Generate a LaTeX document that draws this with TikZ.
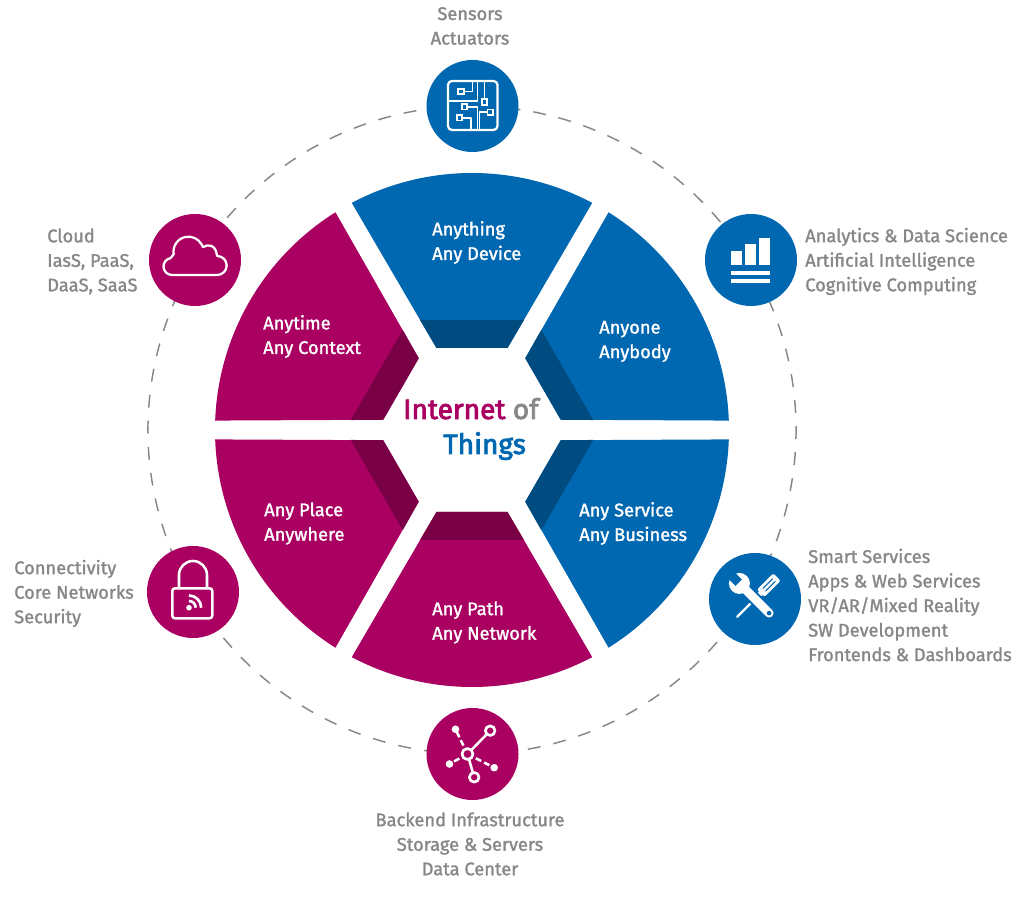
\documentclass[tikz,border=0pt]{standalone}
\usepackage{fontspec}
\setmainfont{Fira Sans}[FakeBold=1.5]
\newfontfamily\hubfont{Fira Sans}[FakeBold=2.8]
\usetikzlibrary{positioning,calc}
\definecolor{iotblue}{RGB}{0,103,177}
\definecolor{iotblued}{RGB}{0,75,127}
\definecolor{iotpink}{RGB}{169,0,97}
\definecolor{iotpinkd}{RGB}{122,0,70}
\definecolor{iotgrey}{RGB}{135,135,135}
\tikzset{
  iconball/.style={circle,minimum size=69pt,inner sep=0pt,fill=#1},
  seglabel/.style={white,align=left,anchor=west,inner sep=0pt,font=\fontsize{13.7}{18.4}\selectfont},
  sidelabel/.style={iotgrey,inner sep=0pt,font=\fontsize{13.7}{18.4}\selectfont},
  hubtext/.style={inner sep=0pt,font=\fontsize{21}{24}\hubfont\selectfont},
  iconline/.style={white,line width=1.7pt,line cap=round,line join=round},
  traceline/.style={white,line width=1.3pt,line join=round}
}
\begin{document}
\begin{tikzpicture}[x=0.75pt,y=0.75pt]
    \useasboundingbox (-472,-493) rectangle (552,430);
    % Dashed ring behind the icons
    \draw[iotgrey,line width=1.1pt,dash pattern=on 9.7pt off 9.88pt,rotate=76.8] (0,0) circle (324);

    % Six segments, all rotated from the top one
    \foreach \angle/\base/\deep in {0/iotblue/iotblued, -60/iotblue/iotblued, -120/iotblue/iotblued, 180/iotpink/iotpinkd, 120/iotpink/iotpinkd, 60/iotpink/iotpinkd}{
        \begin{scope}[rotate=\angle]
            \fill[\base] (-35.5,82) -- (35.5,82) -- (62.1:257) arc[start angle=62.1,end angle=117.9,radius=257] -- cycle;
            \fill[\deep] (-35.5,82) -- (35.5,82) -- (52,110) -- (-52,110) -- cycle;
        \end{scope}
    }

    % Segment texts
    \node[seglabel] (anything) at (-40,187.5) {Anything\\Any Device};
    \node[seglabel] (anyone) at (127,88.5) {Anyone\\Anybody};
    \node[seglabel] (anyservice) at (107,-93.5) {Any Service\\Any Business};
    \node[seglabel] (anypath) at (-40,-192.5) {Any Path\\Any Network};
    \node[seglabel] (anyplace) at (-208,-93.5) {Any Place\\Anywhere};
    \node[seglabel] (anytime) at (-209,93.5) {Anytime\\Any Context};

    % Centre
    \node[hubtext,anchor=base west] (internet) at (-69,11) {\textcolor{iotpink}{Internet} \textcolor{iotgrey}{of}};
    \node[hubtext,anchor=base west,text=iotblue] (things) at (-29,-24) {Things};

    % Icon discs
    \node[iconball=iotblue] (sensors) at (0.5,324) {};
    \node[iconball=iotblue] (analytics) at (279,170) {};
    \node[iconball=iotblue] (services) at (283,-169) {};
    \node[iconball=iotpink] (backend) at (0.5,-324) {};
    \node[iconball=iotpink] (connect) at (-279,-162) {};
    \node[iconball=iotpink] (cloud) at (-277,170) {};

    % Board
    \begin{scope}[shift={(sensors)}]
        \draw[iconline,rounded corners=3pt] (-24.5,-24) rectangle (25,25);
        \draw[traceline] (-24.5,5) -- (5,5) -- (5,25);
        \draw[traceline] (-9,14.5) -- (0,14.5) -- (0,25);
        \draw[traceline] (12,25) -- (12,7);
        \draw[traceline] (-5,-0.7) -- (5,-0.7) -- (5,-24);
        \draw[traceline] (-10,-11.7) -- (-1.5,-11.7) -- (-1.5,-24);
        \draw[traceline] (15,-6.3) -- (7,-6.3) -- (7,-24);
        \foreach \px/\py in {-11.5/14.5, -8/-0.7, -13/-11.7, 12/4, 17.7/-6.3}{
            \draw[white,line width=1.3pt,fill=iotblue] (\px-2.8,\py-2.8) rectangle (\px+2.8,\py+2.8);
        }
    \end{scope}

    % Bars
    \begin{scope}[shift={(analytics)}]
        \foreach \lft/\rgt/\tp in {-20/-9.3/9.3, -5.7/4.7/15.7, 8.3/19/22.3}{
            \fill[white] (\lft,-5) rectangle (\rgt,\tp);
        }
        \fill[white] (-20,-11) rectangle (19,-14.7);
        \fill[white] (-20,-19.3) rectangle (19,-22.7);
    \end{scope}

    % Tools
    \begin{scope}[shift={(services)}]
        \begin{scope}[rotate=45]
            % screwdriver, tip towards lower left
            \draw[white,line width=1.8pt,line cap=round] (-25,0) -- (5,0);
            \fill[white] (4,-2.4) rectangle (9,2.4);
            \fill[white,rounded corners=1.5pt] (8,-5.2) rectangle (31,5.2);
            \draw[iotblue,line width=0.8pt] (13,-1.8) -- (27,-1.8) (13,1.8) -- (27,1.8);
        \end{scope}
        \begin{scope}[rotate=-45]
            % wrench, head towards upper left
            \draw[iotblue,line width=9.5pt] (-12,0) -- (19,0);
            \draw[white,line width=6.6pt,line cap=round] (-14,0) -- (20,0);
            \fill[iotblue] (20,0) circle (2.3);
            \fill[white] (-22,0) circle (10.5);
            \fill[iotblue] (-36,-4.5) rectangle (-23,4.5);
        \end{scope}
    \end{scope}

    % Network
    \begin{scope}[shift={(backend)}]
        \draw[iconline,line width=1.9pt] (-5,0) -- (17.7,23.3);
        \draw[iconline,line width=1.9pt] (-5,0) -- (1.7,-23.3);
        \draw[iconline,line width=1.9pt,dash pattern=on 4.5pt off 2.5pt,line cap=butt] (-5,0) -- (-17,24.7);
        \draw[iconline,line width=1.9pt,dash pattern=on 4.5pt off 2.5pt,line cap=butt] (-5,0) -- (-23,-10);
        \draw[iconline,line width=1.9pt,dash pattern=on 4.5pt off 2.5pt,line cap=butt] (-5,0) -- (21.7,-13.7);
        \draw[iconline,line width=2pt,fill=iotpink] (-5,0) circle (5.5);
        \draw[iconline,line width=2pt,fill=iotpink] (17.7,23.3) circle (4.8);
        \draw[iconline,line width=2pt,fill=iotpink] (1.7,-23.3) circle (4.8);
        \foreach \px/\py in {-17/24.7, -23/-10, 21.7/-13.7}{
            \fill[white] (\px,\py) circle (3.8);
        }
    \end{scope}

    % Padlock
    \begin{scope}[shift={(connect)}]
        \draw[iconline,line width=1.9pt] (-14,3.7) -- (-14,17) arc[start angle=180,end angle=0,radius=14] -- (14,3.7);
        \draw[iconline,line width=1.9pt,rounded corners=2pt] (-20.7,-26.3) rectangle (19.3,3.7);
        \fill[white] (-4,-15.7) circle (2.8);
        \draw[white,line width=2pt] (-4,-9) arc[start angle=90,end angle=0,radius=6.7];
        \draw[white,line width=2pt] (-4,-3.5) arc[start angle=90,end angle=0,radius=12.2];
    \end{scope}

    % Cloud
    \begin{scope}[shift={(cloud)}]
        \draw[iconline] (-23,-15) arc[start angle=270,end angle=100,radius=8.5]
            -- (-21.3,5.7) arc[start angle=190,end angle=30,radius=15]
            -- (8.2,12.8) arc[start angle=130,end angle=20,radius=8]
            -- (22.2,4) arc[start angle=90,end angle=-90,radius=9.5] -- cycle;
    \end{scope}

    % Outer texts
    \node[sidelabel,align=center,anchor=center] (sensorstext) at (-2,404) {Sensors\\Actuators};
    \node[sidelabel,align=left,anchor=west] (analyticstext) at (333,168.5) {Analytics \& Data Science\\Artificial Intelligence\\Cognitive Computing};
    \node[sidelabel,align=left,anchor=west] (servicestext) at (336,-175) {Smart Services\\Apps \& Web Services\\VR/AR/Mixed Reality\\SW Development\\Frontends \& Dashboards};
    \node[sidelabel,align=center,anchor=center] (backendtext) at (-2,-414) {Backend Infrastructure\\Storage \& Servers\\Data Center};
    \node[sidelabel,align=left,anchor=west] (connecttext) at (-458,-163.5) {Connectivity\\Core Networks\\Security};
    \node[sidelabel,align=left,anchor=west] (cloudtext) at (-425,168.5) {Cloud\\IasS, PaaS,\\DaaS, SaaS};
\end{tikzpicture}
\end{document}
